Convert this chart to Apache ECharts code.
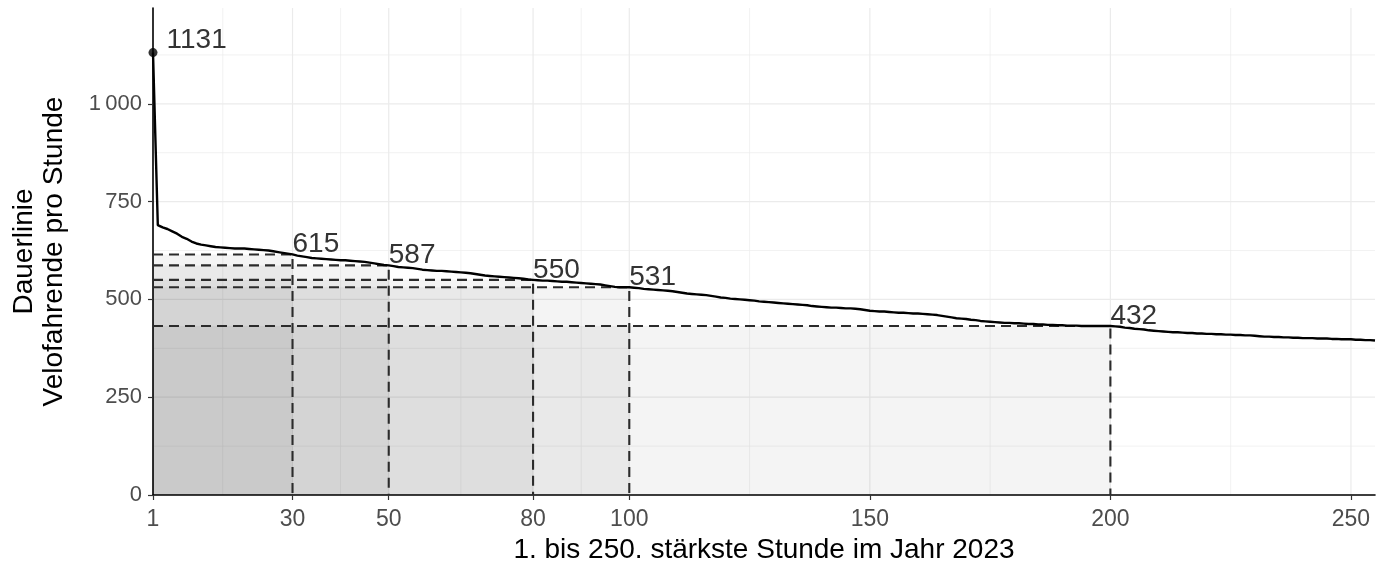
<!DOCTYPE html>
<html>
<head>
<meta charset="utf-8">
<script src="https://cdn.jsdelivr.net/npm/echarts@6/dist/echarts.min.js"></script>
<style>
html,body{margin:0;padding:0;background:#fff;}
#chart{width:1392px;height:569px;}
</style>
</head>
<body>
<div id="chart"></div>
<script>
// ---- data ----
const hourValues = [
1131,690,684,680,674,668,660,655,648,643,
640,638,636,634,633,632,631,630,630,630,
629,628,627,626,625,623,621,619,617,615,
612,610,608,606,605,604,603,602,601,600,
600,599,598,597,596,594,592,590,588,587,
585,583,582,581,580,578,576,575,574,573,
573,572,571,570,569,568,567,565,563,561,
560,559,558,557,556,555,554,553,551,550,
549,548,548,547,546,545,545,544,543,542,
541,540,539,538,536,534,532,531,531,531,
530,529,527,526,525,524,523,522,521,519,
517,515,514,513,512,511,509,507,505,504,
502,501,500,499,498,497,495,494,493,492,
491,490,489,488,487,486,485,483,482,481,
480,479,479,478,477,477,476,475,473,471,
470,469,469,468,467,466,466,465,464,464,
463,462,461,460,458,456,454,452,451,450,
448,447,445,444,443,442,441,440,440,439,
439,438,437,437,436,436,435,435,434,434,
433,433,433,432,432,432,432,432,432,432,
431,430,428,427,425,424,423,421,420,419,
418,417,416,416,415,414,414,413,413,412,
412,411,411,410,410,409,409,408,408,407,
406,405,405,404,404,403,403,402,402,401,
401,401,400,400,400,399,399,398,398,398,
397,397,396,396,395
];
const hours = hourValues.map((v, i) => i + 1);
const thresholdHours = [30, 50, 80, 100, 200];
const thresholdValues = [615, 587, 550, 531, 432];
const peakHour = 1;
const peakValue = 1131;
const xTicks = [1, 30, 50, 80, 100, 150, 200, 250];
const xMinorGrid = [15.5, 40, 65, 90, 125, 175, 225];
const yTicks = [0, 250, 500, 750, 1000];
const yMinorGrid = [125, 375, 625, 875, 1125];
const xTitle = '1. bis 250. stärkste Stunde im Jahr 2023';
const yTitle = 'Dauerlinie\nVelofahrende pro Stunde';

const X_MIN = 1, X_MAX = 255, Y_MIN = 0, Y_MAX = 1245;
const FONT = '"Liberation Sans", Arial, Helvetica, sans-serif';

function fmt(v) {
  return String(v).replace(/\B(?=(\d{3})+(?!\d))/g, '\u2009');
}

function gridSeries(name, data, vertical, width, color) {
  return {
    name, type: 'custom', z: 0, silent: true, clip: false,
    data: data.map(v => vertical ? [v, Y_MIN] : [X_MIN, v]),
    renderItem: function (params, api) {
      let p0, p1;
      if (vertical) {
        const v = api.value(0);
        p0 = api.coord([v, Y_MIN]); p1 = api.coord([v, Y_MAX]);
      } else {
        const v = api.value(1);
        p0 = api.coord([X_MIN, v]); p1 = api.coord([X_MAX, v]);
      }
      return { type: 'line', shape: { x1: p0[0], y1: p0[1], x2: p1[0], y2: p1[1] },
        style: { stroke: color, lineWidth: width } };
    }
  };
}

const chart = echarts.init(document.getElementById('chart'), null, { renderer: 'canvas' });
const thresholdData = thresholdHours.map((h, i) => [h, thresholdValues[i]]);

chart.setOption({
  animation: false,
  backgroundColor: '#ffffff',
  grid: { left: 153, right: 17, top: 8, bottom: 73 },
  xAxis: {
    type: 'value', min: X_MIN, max: X_MAX,
    name: xTitle, nameLocation: 'middle', nameGap: 41,
    nameTextStyle: { fontFamily: FONT, fontSize: 28, color: '#000' },
    axisLine: { show: true, onZero: false, lineStyle: { color: '#000', width: 1.6 } },
    axisTick: { show: true, customValues: xTicks, length: 5, lineStyle: { color: '#333', width: 1.2 } },
    axisLabel: { customValues: xTicks, fontFamily: FONT, fontSize: 23, color: '#4d4d4d', margin: 13 },
    splitLine: { show: false }
  },
  yAxis: {
    type: 'value', min: Y_MIN, max: Y_MAX,
    name: yTitle, nameLocation: 'middle', nameGap: 84,
    nameTextStyle: { fontFamily: FONT, fontSize: 28, color: '#000', lineHeight: 30, align: 'center' },
    axisLine: { show: true, onZero: false, lineStyle: { color: '#000', width: 1.6 } },
    axisTick: { show: true, customValues: yTicks, length: 5, lineStyle: { color: '#333', width: 1.2 } },
    axisLabel: { customValues: yTicks, formatter: v => fmt(v), fontFamily: FONT, fontSize: 22, color: '#4d4d4d', margin: 11 },
    splitLine: { show: false }
  },
  series: [
    gridSeries('xMinor', xMinorGrid, true, 0.7, '#ededed'),
    gridSeries('yMinor', yMinorGrid, false, 0.7, '#ededed'),
    gridSeries('xMajor', xTicks, true, 1.2, '#ebebeb'),
    gridSeries('yMajor', yTicks, false, 1.2, '#ebebeb'),
    {
      name: 'areas', type: 'custom', z: 1, silent: true,
      data: thresholdData,
      renderItem: function (params, api) {
        const p0 = api.coord([X_MIN, Y_MIN]);
        const p1 = api.coord([api.value(0), api.value(1)]);
        return { type: 'rect', shape: { x: p0[0], y: p1[1], width: p1[0] - p0[0], height: p0[1] - p1[1] },
          style: { fill: 'rgba(0,0,0,0.045)' } };
      }
    },
    {
      name: 'dashes', type: 'custom', z: 2, silent: true, clip: false,
      data: thresholdData,
      renderItem: function (params, api) {
        const h = api.value(0), v = api.value(1);
        const a = api.coord([X_MIN, v]);
        const b = api.coord([h, v]);
        const c = api.coord([h, Y_MIN]);
        return { type: 'group', children: [
          { type: 'polyline', shape: { points: [a, b, c] },
            style: { stroke: '#2b2b2b', lineWidth: 2.1, lineDash: [10, 6], fill: null } },
          { type: 'text', z2: 10, style: { text: String(v), x: b[0], y: b[1] + 4,
            fill: '#333', fontSize: 28, fontFamily: FONT, align: 'left', verticalAlign: 'bottom' } }
        ] };
      }
    },
    {
      name: 'Dauerlinie', type: 'line', z: 3, silent: true,
      data: hours.map((h, i) => [h, hourValues[i]]),
      showSymbol: false, symbol: 'none',
      lineStyle: { color: '#000', width: 2.4 }
    },
    {
      name: 'peak', type: 'scatter', z: 4, silent: true,
      data: [[peakHour, peakValue]],
      symbolSize: 9, itemStyle: { color: '#000' },
      label: { show: true, formatter: p => String(p.value[1]), position: 'right', distance: 9,
        offset: [0, -12], fontFamily: FONT, fontSize: 28, color: '#000' }
    }
  ]
});
</script>
</body>
</html>
